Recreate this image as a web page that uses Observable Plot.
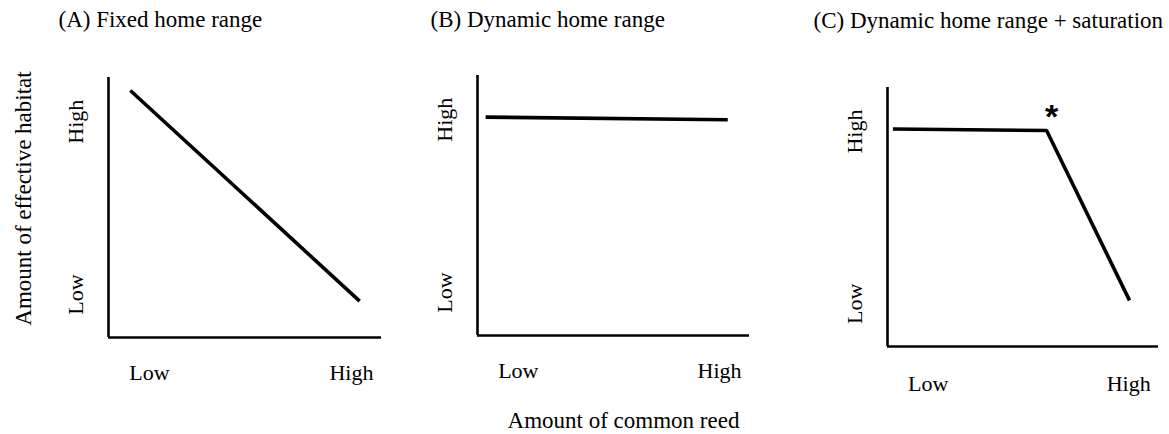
<!DOCTYPE html>
<html><head><meta charset="utf-8">
<script src="https://cdn.jsdelivr.net/npm/d3@7"></script>
<script src="https://cdn.jsdelivr.net/npm/@observablehq/plot@0.6"></script>
<style>
html,body{margin:0;padding:0;background:#fff;}
#wrap{position:relative;width:1169px;height:434px;overflow:hidden;background:#fff;}
#wrap > svg{position:absolute;top:0;margin:0;}
</style></head><body><div id="wrap"></div>
<script>
// ---- data ----
const titles = ["(A) Fixed home range", "(B) Dynamic home range", "(C) Dynamic home range + saturation"];
const xTicks = [0.15, 0.89];
const xTickLabels = ["Low", "High"];
const yTicks = [0.165, 0.83];
const yTickLabels = ["Low", "High"];
const yAxisTitle = "Amount of effective habitat";
const xAxisTitle = "Amount of common reed";
const panelAX = [0.08, 0.92];
const panelAY = [0.95, 0.14];
const panelBX = [0.03, 0.92];
const panelBY = [0.84, 0.83];
const panelCX = [0.02, 0.587, 0.893];
const panelCY = [0.84, 0.834, 0.178];
const saturationMark = "*";
const saturationIndex = 1;

const FONT = '"Liberation Serif", "Times New Roman", serif';

function panel(o) {
  const pts = o.xs.map((x, i) => ({x, y: o.ys[i]}));
  const marks = [
    Plot.ruleX([0], {stroke: "#000", strokeWidth: 2.6}),
    Plot.ruleY([0], {stroke: "#000", strokeWidth: 2.6}),
    Plot.line(pts, {x: "x", y: "y", stroke: "#000", strokeWidth: 3.6, strokeLinecap: "butt", strokeLinejoin: "miter"}),
    Plot.axisX({ticks: xTicks, tickFormat: d => xTickLabels[xTicks.indexOf(d)], tickSize: 0, tickPadding: o.xPad, label: null, fontSize: 22, fontFamily: FONT, fill: "#000"}),
    Plot.text(yTicks, {y: d => d, text: (d, i) => yTickLabels[i], frameAnchor: "left", dx: -26, rotate: -90, lineAnchor: "bottom", textAnchor: "middle", fontSize: 22, fontFamily: FONT, fill: "#000"}),
    Plot.text([o.title], {frameAnchor: "top-left", dx: o.tdx, dy: o.tdy, lineAnchor: "bottom", textAnchor: "start", fontSize: 23, fontFamily: FONT, fill: "#000"})
  ];
  if (o.yLabel) marks.push(Plot.text([o.yLabel], {frameAnchor: "left", dx: -78, dy: -9, rotate: -90, lineAnchor: "bottom", textAnchor: "middle", fontSize: 23, fontFamily: FONT, fill: "#000"}));
  if (o.xLabel) marks.push(Plot.text([o.xLabel], {frameAnchor: "bottom", dx: 10, dy: 92, lineAnchor: "bottom", textAnchor: "middle", fontSize: 23, fontFamily: FONT, fill: "#000"}));
  if (o.star != null) marks.push(Plot.text([pts[o.star]], {x: "x", y: "y", text: () => saturationMark, dx: 5, dy: -2, lineAnchor: "bottom", textAnchor: "middle", fontSize: 34, fontWeight: "bold", fontFamily: '"Liberation Sans", Arial, sans-serif', fill: "#000"}));
  const svg = Plot.plot({
    width: o.width, height: 434,
    marginLeft: o.mL, marginRight: o.mR, marginTop: o.mT, marginBottom: o.mB,
    x: {domain: [0, 1], axis: null},
    y: {domain: [0, 1], axis: null},
    style: {background: "transparent", "font-family": FONT, color: "#000"},
    marks
  });
  svg.style.left = o.left + "px";
  document.getElementById("wrap").appendChild(svg);
}

panel({left: 0, width: 400, mL: 108, mR: 19, mT: 77, mB: 97, xs: panelAX, ys: panelAY, title: titles[0], tdx: -50, tdy: -51, xPad: 27, yLabel: yAxisTitle});
panel({left: 400, width: 390, mL: 77, mR: 41, mT: 75, mB: 99, xs: panelBX, ys: panelBY, title: titles[1], tdx: -47, tdy: -49, xPad: 27, xLabel: xAxisTitle});
panel({left: 790, width: 379, mL: 97, mR: 11, mT: 87, mB: 88, xs: panelCX, ys: panelCY, title: titles[2], tdx: -74, tdy: -60, xPad: 29, star: saturationIndex});
</script></body></html>
